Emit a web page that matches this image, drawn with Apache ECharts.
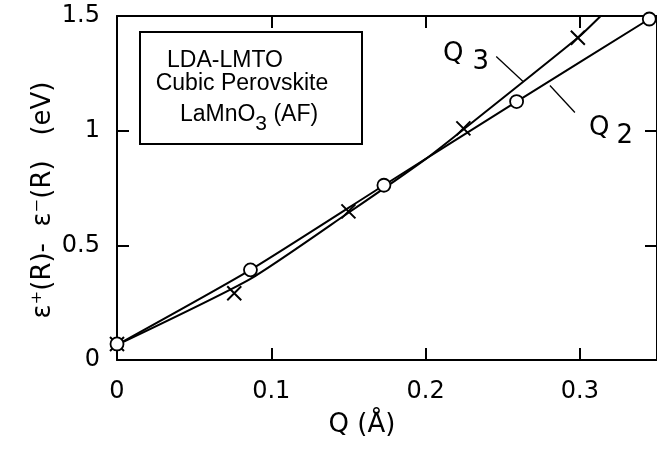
<!DOCTYPE html>
<html>
<head>
<meta charset="utf-8">
<script src="https://cdn.jsdelivr.net/npm/echarts@6/dist/echarts.min.js"></script>
<style>html,body{margin:0;padding:0;background:#fff;}#c{width:657px;height:449px;}</style>
</head>
<body>
<div id="c"></div>
<script>
// Q2 mode: computed points (circles)
const q2X = [0, 0.0865, 0.173, 0.259, 0.345];
const q2Y = [0.07, 0.393, 0.762, 1.127, 1.487];
// Q3 mode: computed points (crosses)
const q3X = [0, 0.076, 0.150, 0.2245, 0.2987];
const q3Y = [0.07, 0.291, 0.648, 1.010, 1.405];
// fitted curves
const q2CurveX = [0, 0.0865, 0.173, 0.259, 0.345];
const q2CurveY = [0.066, 0.393, 0.762, 1.127, 1.487];
const q3CurveX = [0, 0.0865, 0.150, 0.200, 0.2245, 0.2987, 0.3135];
const q3CurveY = [0.066, 0.354, 0.642, 0.876, 1.005, 1.405, 1.5];
// leader lines of the labels, data coords
const leaderQ3 = [[0.2458, 1.323], [0.2632, 1.214]];
const leaderQ2 = [[0.2806, 1.197], [0.2968, 1.079]];
const xTicks = [0, 0.1, 0.2, 0.3];
const yTicks = [0, 0.5, 1, 1.5];

const FONT = 'DejaVu Sans';
const BOXFONT = 'Liberation Sans';
const crossPath = 'path://M0,0L10,10M0,10L10,0';

const chart = echarts.init(document.getElementById('c'), null, {renderer: 'canvas'});

const axisCommon = {
  axisLine: {show: true, onZero: false, lineStyle: {color: '#000', width: 2}},
  axisTick: {show: true, inside: true, length: 12, lineStyle: {color: '#000', width: 2}},
  splitLine: {show: false}
};

const option = {
  animation: false,
  backgroundColor: '#fff',
  grid: {left: 117, top: 16, right: -2, bottom: 89, containLabel: false},
  xAxis: [
    Object.assign({}, axisCommon, {
      type: 'value', position: 'bottom', min: 0, max: 0.35, interval: 0.1,
      axisLabel: {show: true, margin: 20, color: '#000', fontFamily: FONT, fontSize: 24,
        showMaxLabel: false,
        formatter: v => xTicks.some(t => Math.abs(t - v) < 1e-9) ? String(+v.toFixed(2)) : ''}
    }),
    Object.assign({}, axisCommon, {
      type: 'value', position: 'top', min: 0, max: 0.35, interval: 0.1,
      axisLabel: {show: false}
    })
  ],
  yAxis: [
    Object.assign({}, axisCommon, {
      type: 'value', position: 'left', min: 0, max: 1.5, interval: 0.5,
      axisLabel: {show: true, margin: 17, color: '#000', fontFamily: FONT, fontSize: 24,
        formatter: v => yTicks.some(t => Math.abs(t - v) < 1e-9) ? String(v) : ''}
    }),
    Object.assign({}, axisCommon, {
      type: 'value', position: 'right', min: 0, max: 1.5, interval: 0.5,
      axisLabel: {show: false}
    })
  ],
  series: [
    {
      name: 'Q3 fit', type: 'line', smooth: 0.2, z: 3, symbol: 'none',
      lineStyle: {color: '#000', width: 2},
      data: q3CurveX.map((x, i) => [x, q3CurveY[i]]),
      markLine: {
        silent: true, symbol: 'none', label: {show: false},
        lineStyle: {color: '#000', width: 1.3, type: 'solid'},
        data: [
          [{coord: leaderQ3[0]}, {coord: leaderQ3[1]}],
          [{coord: leaderQ2[0]}, {coord: leaderQ2[1]}]
        ]
      }
    },
    {
      name: 'Q2 fit', type: 'line', smooth: 0.2, z: 3, symbol: 'none',
      lineStyle: {color: '#000', width: 2},
      data: q2CurveX.map((x, i) => [x, q2CurveY[i]])
    },
    {
      name: 'Q3', type: 'scatter', z: 4,
      symbol: crossPath, symbolSize: 14, symbolKeepAspect: true,
      itemStyle: {color: 'rgba(0,0,0,0)', borderColor: '#000', borderWidth: 2, opacity: 1},
      data: q3X.map((x, i) => [x, q3Y[i]])
    },
    {
      name: 'Q2', type: 'scatter', z: 5,
      symbol: 'circle', symbolSize: 13,
      itemStyle: {color: '#fff', borderColor: '#000', borderWidth: 1.8, opacity: 1},
      data: q2X.map((x, i) => [x, q2Y[i]])
    }
  ],
  graphic: [
    {type: 'rect', shape: {x: 140, y: 32, width: 222, height: 112},
      style: {fill: '#fff', stroke: '#000', lineWidth: 2}, z: 10},
    {type: 'text', z: 11, style: {x: 225, y: 61, text: 'LDA-LMTO', textAlign: 'center', textVerticalAlign: 'middle',
      font: '23px "Liberation Sans"', fill: '#000'}},
    {type: 'text', z: 11, style: {x: 242, y: 84, text: 'Cubic Perovskite', textAlign: 'center', textVerticalAlign: 'middle',
      font: '23px "Liberation Sans"', fill: '#000'}},
    {type: 'text', z: 11, style: {x: 249, y: 119, text: '{n|LaMnO}{s|3}{n| (AF)}', textAlign: 'center', textVerticalAlign: 'middle',
      rich: {
        n: {fontFamily: BOXFONT, fontSize: 23, color: '#000', padding: [0, 0, 8, 0]},
        s: {fontFamily: BOXFONT, fontSize: 21, color: '#000', padding: [10, 0, 0, 0]}
      }}},
    {type: 'text', z: 11, style: {x: 443, y: 58, text: '{q|Q}{s|3}', textAlign: 'left', textVerticalAlign: 'middle',
      rich: {
        q: {fontFamily: FONT, fontSize: 26, color: '#000', padding: [0, 9, 8, 0]},
        s: {fontFamily: FONT, fontSize: 26, color: '#000', padding: [8, 0, 0, 0]}
      }}},
    {type: 'text', z: 11, style: {x: 589, y: 132, text: '{q|Q}{s|2}', textAlign: 'left', textVerticalAlign: 'middle',
      rich: {
        q: {fontFamily: FONT, fontSize: 26, color: '#000', padding: [0, 7, 8, 0]},
        s: {fontFamily: FONT, fontSize: 26, color: '#000', padding: [8, 0, 0, 0]}
      }}},
    {type: 'text', z: 11, style: {x: 362, y: 425, text: 'Q (Å)', textAlign: 'center', textVerticalAlign: 'middle',
      font: '26px "DejaVu Sans"', fill: '#000'}},
    {type: 'text', z: 11, x: 43, y: 200, rotation: Math.PI / 2,
      style: {x: 0, y: 0, text: 'ε⁺(R)-  ε⁻(R)   (eV)', textAlign: 'center', textVerticalAlign: 'middle',
      font: '26px "DejaVu Sans"', fill: '#000'}}
  ]
};
chart.setOption(option);
</script>
</body>
</html>
